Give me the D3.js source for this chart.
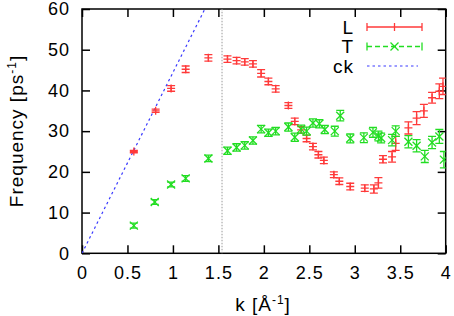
<!DOCTYPE html>
<html><head><meta charset="utf-8">
<script src="https://cdn.jsdelivr.net/npm/d3@7"></script>
<style>
body{margin:0;background:#fff;}
text{font-family:"Liberation Sans",Arial,sans-serif;}
</style></head>
<body><svg id="c" width="454" height="316"></svg>
<script>
// ---- data ----
const kL = [0.57,0.81,0.98,1.14,1.39,1.60,1.70,1.79,1.88,1.97,2.05,2.13,2.27,2.34,2.41,2.47,2.54,2.60,2.66,2.77,2.83,2.95,3.11,3.21,3.26,3.31,3.41,3.45,3.59,3.68,3.76,3.85,3.93,3.97];
const fL = [25.0,35.0,40.5,45.2,48.0,47.7,47.3,47.0,46.5,44.2,42.2,40.4,36.3,32.4,30.3,28.2,26.2,24.2,22.8,19.3,17.7,16.4,16.0,15.8,17.3,23.1,23.7,27.0,30.8,33.2,35.0,38.2,39.8,41.0];
const eL = [0.3,0.4,0.7,0.8,0.8,0.8,0.8,0.8,0.8,0.9,0.8,0.8,0.7,0.8,0.8,0.8,0.8,0.8,0.8,0.7,0.8,0.8,0.8,1.0,1.3,0.9,1.3,1.7,1.5,1.6,1.6,1.3,1.8,2.0];
const kT = [0.57,0.80,0.98,1.14,1.39,1.60,1.70,1.79,1.88,1.97,2.05,2.13,2.27,2.34,2.41,2.47,2.54,2.61,2.67,2.78,2.84,2.95,3.10,3.20,3.26,3.29,3.41,3.45,3.59,3.68,3.77,3.85,3.93,3.98];
const fT = [6.8,12.6,16.9,18.4,23.3,25.2,26.0,26.5,27.7,30.5,29.6,30.0,31.0,28.5,30.5,30.0,32.0,31.8,30.4,30.0,33.8,28.2,28.4,29.7,28.8,28.3,27.8,30.0,27.4,26.4,23.8,27.2,28.7,23.0];
const eT = [0.6,0.6,0.6,0.7,0.8,0.9,0.9,0.9,0.9,0.9,0.9,0.9,1.0,1.0,1.0,1.0,1.0,1.0,1.0,1.2,1.3,1.1,1.2,1.2,1.2,1.2,1.4,1.3,1.5,1.5,1.5,1.5,1.7,2.0];
const ckSlope = 44.4;         // c in ps^-1 Å
const kMarker = 1.54;         // vertical dotted line
const xTicks = [0,0.5,1,1.5,2,2.5,3,3.5,4];
const yTicks = [0,10,20,30,40,50,60];
const legendLabels = ["L","T","ck"];

// ---- layout ----
const W=454,H=316, m={l:82,r:8.3,t:9,b:62.7};
const svg=d3.select("#c");
const x=d3.scaleLinear().domain([0,4]).range([m.l,W-m.r]);
const y=d3.scaleLinear().domain([0,60]).range([H-m.b,m.t]);
const RED="#ff3a3a", GREEN="#22dd22", BLUE="#3a3aff";
const FS=18;

svg.append("clipPath").attr("id","clip").append("rect")
  .attr("x",m.l).attr("y",m.t).attr("width",x(4)-m.l).attr("height",y(0)-m.t);

// axes (inward ticks, mirrored)
const tk=8;
const gxB=svg.append("g").attr("transform",`translate(0,${y(0)})`)
  .call(d3.axisBottom(x).tickValues(xTicks).tickSize(-tk).tickPadding(13).tickFormat(d3.format("")));
const gxT=svg.append("g").attr("transform",`translate(0,${y(60)})`)
  .call(d3.axisTop(x).tickValues(xTicks).tickSize(-tk).tickFormat(""));
const gyL=svg.append("g").attr("transform",`translate(${x(0)},0)`)
  .call(d3.axisLeft(y).tickValues(yTicks).tickSize(-tk).tickPadding(12));
const gyR=svg.append("g").attr("transform",`translate(${x(4)},0)`)
  .call(d3.axisRight(y).tickValues(yTicks).tickSize(-tk).tickFormat(""));
[gxB,gxT,gyL,gyR].forEach(g=>{
  g.select(".domain").remove();
  g.selectAll(".tick line").attr("stroke","#000").attr("stroke-width",1.5);
  g.selectAll(".tick text").attr("font-size",FS).attr("fill","#000")
    .attr("font-family","Liberation Sans, Arial, sans-serif").attr("letter-spacing",1);
});
svg.append("rect").attr("x",x(0)).attr("y",y(60)).attr("width",x(4)-x(0)).attr("height",y(0)-y(60))
  .attr("fill","none").attr("stroke","#000").attr("stroke-width",1.5);

// vertical dotted line
svg.append("line").attr("x1",x(kMarker)).attr("x2",x(kMarker)).attr("y1",y(0)).attr("y2",y(60))
  .attr("stroke","#999").attr("stroke-width",1).attr("stroke-dasharray","1.5,1.5");

const plot=svg.append("g").attr("clip-path","url(#clip)");

// ck line
plot.append("line").attr("x1",x(0)).attr("y1",y(0)).attr("x2",x(60/ckSlope)).attr("y2",y(60))
  .attr("stroke",BLUE).attr("stroke-width",1.2).attr("stroke-dasharray","2.5,3");

const cap=4, ps=4;
function errbars(g,ks,fs,es){
  ks.forEach((k,i)=>{
    const cx=x(k), y1=y(fs[i]-es[i]), y2=y(fs[i]+es[i]);
    g.append("line").attr("x1",cx).attr("x2",cx).attr("y1",y1).attr("y2",y2);
    g.append("line").attr("x1",cx-cap).attr("x2",cx+cap).attr("y1",y1).attr("y2",y1);
    g.append("line").attr("x1",cx-cap).attr("x2",cx+cap).attr("y1",y2).attr("y2",y2);
  });
}
// L series
const gL=plot.append("g").attr("stroke",RED).attr("stroke-width",1.3);
errbars(gL,kL,fL,eL);
kL.forEach((k,i)=>{
  const cx=x(k),cy=y(fL[i]);
  gL.append("line").attr("x1",cx-ps).attr("x2",cx+ps).attr("y1",cy).attr("y2",cy);
  gL.append("line").attr("x1",cx).attr("x2",cx).attr("y1",cy-ps).attr("y2",cy+ps);
});
// T series
const gT=plot.append("g").attr("stroke",GREEN).attr("stroke-width",1.3);
errbars(gT,kT,fT,eT);
kT.forEach((k,i)=>{
  const cx=x(k),cy=y(fT[i]);
  gT.append("line").attr("x1",cx-ps).attr("x2",cx+ps).attr("y1",cy-ps).attr("y2",cy+ps);
  gT.append("line").attr("x1",cx-ps).attr("x2",cx+ps).attr("y1",cy+ps).attr("y2",cy-ps);
});

// legend
const lx0=367, lx1=422, lxm=(lx0+lx1)/2, ly=[27,46.5,66];
const lg=svg.append("g");
legendLabels.forEach((t,i)=>{
  lg.append("text").attr("x",354).attr("y",ly[i]).attr("dy","0.36em").attr("text-anchor","end")
    .attr("font-size",FS+1).attr("letter-spacing",1).text(t);
});
const s0=lg.append("g").attr("stroke",RED).attr("stroke-width",1.3);
s0.append("line").attr("x1",lx0).attr("x2",lx1).attr("y1",ly[0]).attr("y2",ly[0]);
[lx0,lx1].forEach(v=>s0.append("line").attr("x1",v).attr("x2",v).attr("y1",ly[0]-cap).attr("y2",ly[0]+cap));
s0.append("line").attr("x1",lxm).attr("x2",lxm).attr("y1",ly[0]-ps).attr("y2",ly[0]+ps);
const s1=lg.append("g").attr("stroke",GREEN).attr("stroke-width",1.3);
s1.append("line").attr("x1",lx0).attr("x2",lx1).attr("y1",ly[1]).attr("y2",ly[1]).attr("stroke-dasharray","5,3");
[lx0,lx1].forEach(v=>s1.append("line").attr("x1",v).attr("x2",v).attr("y1",ly[1]-cap).attr("y2",ly[1]+cap));
s1.append("line").attr("x1",lxm-ps).attr("x2",lxm+ps).attr("y1",ly[1]-ps).attr("y2",ly[1]+ps);
s1.append("line").attr("x1",lxm-ps).attr("x2",lxm+ps).attr("y1",ly[1]+ps).attr("y2",ly[1]-ps);
lg.append("line").attr("x1",lx0).attr("x2",lx1-4).attr("y1",ly[2]).attr("y2",ly[2])
  .attr("stroke",BLUE).attr("stroke-width",1.2).attr("stroke-dasharray","2.5,3");

// axis titles
const xt=svg.append("text").attr("x",263).attr("y",311).attr("text-anchor","middle")
  .attr("font-size",FS+1).attr("letter-spacing",1);
xt.append("tspan").text("k [Å");
xt.append("tspan").attr("dy",-7).attr("font-size",12).text("-1");
xt.append("tspan").attr("dy",7).text("]");
const yt=svg.append("text").attr("transform","translate(23,131) rotate(-90)").attr("text-anchor","middle")
  .attr("font-size",FS+1).attr("letter-spacing",1);
yt.append("tspan").text("Frequency [ps");
yt.append("tspan").attr("dy",-7).attr("font-size",12).text("-1");
yt.append("tspan").attr("dy",7).text("]");
</script></body></html>
